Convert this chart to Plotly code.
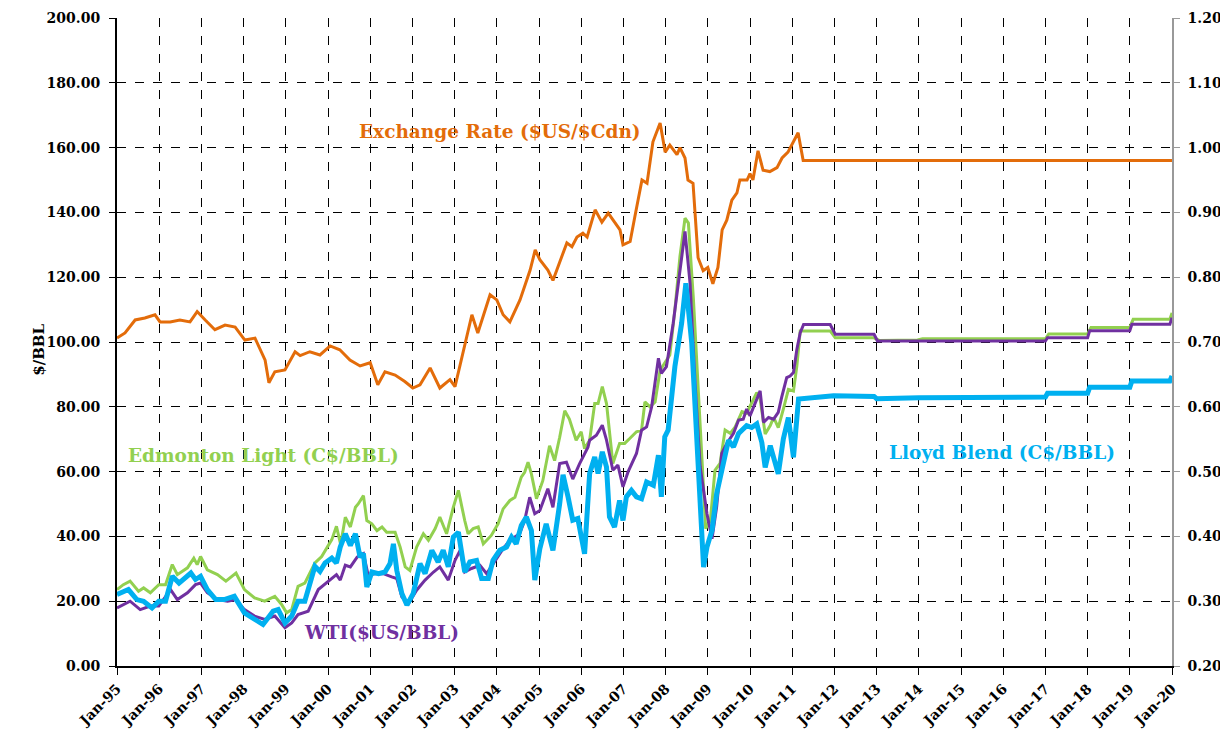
import plotly.graph_objects as go

# ---------------- data (decimal years) ----------------
years_ticks = list(range(1995, 2021))
tick_labels = ["Jan-%02d" % (y % 100) for y in years_ticks]

edm_x = [1995.0, 1995.15, 1995.31, 1995.51, 1995.63, 1995.79, 1995.99, 1996.15, 1996.31, 1996.43,
         1996.67, 1996.82, 1996.90, 1996.98, 1997.14, 1997.38, 1997.58, 1997.82, 1998.02, 1998.26,
         1998.50, 1998.74, 1998.90, 1999.02, 1999.14, 1999.29, 1999.45, 1999.69, 1999.85, 2000.09,
         2000.20, 2000.30, 2000.41, 2000.53, 2000.65, 2000.72, 2000.84, 2000.92, 2001.04, 2001.16,
         2001.28, 2001.39, 2001.59, 2001.71, 2001.83, 2001.94, 2002.10, 2002.26, 2002.38, 2002.54,
         2002.65, 2002.81, 2002.97, 2003.09, 2003.24, 2003.32, 2003.44, 2003.56, 2003.68, 2003.87,
         2004.03, 2004.15, 2004.31, 2004.43, 2004.58, 2004.66, 2004.74, 2004.82, 2004.94, 2005.09,
         2005.25, 2005.37, 2005.49, 2005.61, 2005.72, 2005.88, 2006.00, 2006.08, 2006.20, 2006.32,
         2006.40, 2006.50, 2006.60, 2006.75, 2006.91, 2007.03, 2007.15, 2007.31, 2007.43, 2007.51,
         2007.63, 2007.75, 2007.87, 2007.98, 2008.10, 2008.22, 2008.34, 2008.46, 2008.54, 2008.66,
         2008.78, 2008.90, 2008.95, 2009.06, 2009.17, 2009.29, 2009.41, 2009.53, 2009.65, 2009.81,
         2009.92, 2010.16, 2010.24, 2010.36, 2010.48, 2010.56, 2010.67, 2010.79, 2010.91, 2011.03,
         2011.11, 2011.19, 2011.90, 2012.02, 2012.94, 2013.06, 2013.97, 2014.09, 2017.00, 2017.08,
         2018.00, 2018.08, 2019.00, 2019.08, 2019.95, 2020.00]
edm_v = [23.6, 25.1, 26.2, 23.1, 24.1, 22.6, 25.1, 25.1, 31.3, 28.2,
         30.3, 33.3, 31.3, 33.8, 29.7, 28.2, 26.2, 28.7, 23.6, 21.0,
         20.0, 21.5, 19.0, 16.4, 17.4, 24.6, 25.6, 31.8, 33.8, 39.0,
         43.1, 37.5, 45.9, 42.9, 49.0, 50.1, 52.6, 44.9, 43.9, 41.8,
         42.9, 41.3, 41.3, 36.7, 30.6, 29.5, 36.7, 40.8, 38.8, 42.4,
         46.0, 40.8, 49.0, 54.2, 44.9, 40.8, 42.4, 42.9, 37.7, 40.3,
         43.9, 48.5, 51.1, 52.1, 58.3, 59.8, 62.9, 59.3, 51.6, 57.2,
         68.0, 63.4, 70.6, 78.8, 76.2, 69.7, 72.3, 67.1, 69.7, 81.0,
         81.0, 86.2, 81.0, 62.5, 68.7, 68.7, 70.2, 72.3, 72.8, 81.5,
         80.0, 81.5, 91.3, 93.4, 96.0, 109.9, 126.4, 138.2, 136.7, 113.0,
         82.1, 53.2, 42.4, 44.9, 60.4, 62.5, 72.8, 71.8, 73.8, 78.5,
         78.0, 84.4, 82.4, 71.6, 74.2, 76.7, 73.6, 79.3, 85.4, 84.9,
         92.6, 103.4, 103.4, 101.3, 101.3, 100.5, 100.6, 101.0, 101.0, 102.5,
         102.5, 104.5, 104.5, 107.0, 107.0, 109.0]

wti_x = [1995.0, 1995.31, 1995.55, 1995.79, 1995.99, 1996.27, 1996.43, 1996.67, 1996.86, 1996.98,
         1997.14, 1997.38, 1997.62, 1997.82, 1998.02, 1998.26, 1998.50, 1998.74, 1998.98, 1999.14,
         1999.29, 1999.53, 1999.77, 2000.01, 2000.20, 2000.29, 2000.41, 2000.53, 2000.69, 2000.84,
         2000.96, 2001.08, 2001.31, 2001.51, 2001.63, 2001.75, 2001.91, 2002.10, 2002.30, 2002.50,
         2002.65, 2002.85, 2003.01, 2003.13, 2003.24, 2003.40, 2003.60, 2003.76, 2003.95, 2004.15,
         2004.31, 2004.54, 2004.66, 2004.78, 2004.90, 2005.02, 2005.21, 2005.33, 2005.49, 2005.65,
         2005.80, 2005.96, 2006.16, 2006.20, 2006.36, 2006.50, 2006.60, 2006.75, 2006.87, 2006.99,
         2007.11, 2007.31, 2007.43, 2007.55, 2007.67, 2007.83, 2007.90, 2008.02, 2008.18, 2008.34,
         2008.46, 2008.58, 2008.70, 2008.82, 2008.98, 2009.10, 2009.21, 2009.33, 2009.45, 2009.61,
         2009.73, 2009.84, 2009.92, 2010.00, 2010.12, 2010.24, 2010.32, 2010.44, 2010.56, 2010.67,
         2010.75, 2010.87, 2010.95, 2011.03, 2011.11, 2011.19, 2011.27, 2011.90, 2012.02, 2012.94,
         2013.02, 2017.00, 2017.05, 2018.00, 2018.05, 2019.00, 2019.05, 2019.95, 2020.00]
wti_v = [17.9, 20.0, 17.4, 18.5, 18.5, 23.6, 20.5, 22.6, 25.1, 25.6,
         22.6, 20.5, 20.0, 20.5, 17.4, 15.4, 14.4, 15.4, 11.8, 13.3,
         15.9, 16.9, 23.6, 26.2, 28.2, 26.5, 31.1, 30.6, 33.6, 34.7,
         27.5, 28.5, 28.5, 27.5, 27.0, 21.3, 19.3, 23.4, 26.5, 29.0,
         30.6, 26.5, 32.6, 35.7, 29.0, 30.1, 31.1, 28.5, 32.1, 36.2,
         38.8, 40.8, 44.9, 52.1, 47.0, 48.0, 54.7, 49.0, 62.5, 62.9,
         57.7, 62.4, 67.5, 69.7, 71.2, 74.3, 69.7, 60.4, 62.0, 55.3,
         59.9, 65.6, 72.8, 73.8, 80.0, 95.0, 90.3, 92.4, 105.8, 121.2,
         134.1, 118.1, 87.2, 61.4, 47.0, 39.3, 49.1, 65.6, 68.7, 71.8,
         75.9, 76.2, 79.3, 77.2, 81.3, 84.9, 75.2, 76.7, 76.2, 78.3,
         82.9, 89.0, 89.5, 90.6, 97.7, 102.9, 105.4, 105.4, 102.4, 102.4,
         100.3, 100.3, 101.3, 101.3, 103.5, 103.5, 105.5, 105.5, 107.5]

lloyd_x = [1995.0, 1995.27, 1995.47, 1995.63, 1995.83, 1995.99, 1996.15, 1996.31, 1996.47, 1996.75,
           1996.86, 1996.98, 1997.14, 1997.34, 1997.54, 1997.78, 1998.02, 1998.26, 1998.46, 1998.70,
           1998.82, 1998.98, 1999.14, 1999.29, 1999.45, 1999.69, 1999.81, 1999.93, 2000.09, 2000.20,
           2000.29, 2000.41, 2000.53, 2000.65, 2000.76, 2000.84, 2000.92, 2001.04, 2001.20, 2001.35,
           2001.47, 2001.55, 2001.63, 2001.75, 2001.87, 2002.02, 2002.18, 2002.30, 2002.46, 2002.61,
           2002.73, 2002.85, 2002.97, 2003.09, 2003.24, 2003.36, 2003.52, 2003.64, 2003.80, 2003.91,
           2004.07, 2004.23, 2004.35, 2004.46, 2004.58, 2004.70, 2004.82, 2004.90, 2005.02, 2005.17,
           2005.33, 2005.49, 2005.57, 2005.69, 2005.80, 2005.92, 2006.00, 2006.08, 2006.20, 2006.32,
           2006.40, 2006.50, 2006.60, 2006.67, 2006.79, 2006.91, 2006.99, 2007.07, 2007.19, 2007.31,
           2007.43, 2007.55, 2007.71, 2007.83, 2007.90, 2007.98, 2008.06, 2008.22, 2008.38, 2008.48,
           2008.62, 2008.74, 2008.90, 2008.98, 2009.10, 2009.21, 2009.37, 2009.49, 2009.61, 2009.73,
           2009.92, 2010.04, 2010.16, 2010.28, 2010.36, 2010.48, 2010.67, 2010.79, 2010.91, 2011.03,
           2011.15, 2011.98, 2012.94, 2013.00, 2014.00, 2017.00, 2017.05, 2018.00, 2018.05, 2019.00,
           2019.05, 2019.95, 2020.00]
lloyd_v = [22.1, 23.6, 20.5, 20.0, 17.9, 20.0, 20.0, 27.7, 25.6, 28.7,
           26.7, 27.7, 23.6, 20.5, 20.5, 21.5, 16.4, 14.4, 12.8, 16.9,
           17.4, 13.3, 15.4, 20.0, 20.0, 30.8, 29.2, 31.8, 33.3, 31.8,
           36.7, 40.8, 37.2, 40.8, 33.6, 34.7, 24.4, 29.0, 28.5, 29.0,
           31.6, 37.7, 29.5, 22.4, 18.8, 22.4, 31.6, 28.5, 35.7, 32.1,
           35.7, 30.6, 39.8, 41.3, 29.0, 32.1, 32.6, 27.0, 27.0, 32.6,
           35.7, 36.7, 39.8, 37.7, 43.4, 46.0, 41.8, 26.5, 36.2, 43.9,
           35.7, 50.1, 59.0, 52.1, 45.0, 45.5, 39.8, 34.6, 59.4, 64.5,
           59.4, 66.1, 61.4, 46.0, 42.9, 51.1, 44.9, 52.2, 54.2, 52.2,
           51.6, 56.8, 55.8, 65.1, 52.2, 70.7, 72.8, 92.4, 105.8, 118.1,
           99.6, 68.7, 30.5, 36.7, 41.9, 53.2, 63.5, 69.7, 67.6, 71.8,
           74.2, 73.6, 74.7, 69.0, 61.3, 68.0, 59.3, 70.1, 76.7, 64.4,
           82.4, 83.4, 83.2, 82.5, 82.8, 83.0, 84.2, 84.2, 86.0, 86.0,
           88.0, 88.0, 89.5]

fx_x = [1995.0, 1995.19, 1995.43, 1995.66, 1995.90, 1996.02, 1996.26, 1996.49, 1996.73, 1996.90,
        1997.09, 1997.32, 1997.56, 1997.80, 1998.03, 1998.27, 1998.51, 1998.60, 1998.74, 1998.98,
        1999.22, 1999.34, 1999.57, 1999.81, 2000.05, 2000.28, 2000.52, 2000.76, 2001.00, 2001.18,
        2001.35, 2001.59, 2001.82, 2002.01, 2002.18, 2002.42, 2002.65, 2002.89, 2003.01, 2003.25,
        2003.41, 2003.55, 2003.84, 2004.00, 2004.15, 2004.31, 2004.55, 2004.79, 2004.91, 2005.02,
        2005.21, 2005.33, 2005.66, 2005.78, 2005.90, 2006.04, 2006.14, 2006.33, 2006.49, 2006.64,
        2006.80, 2006.92, 2006.99, 2007.16, 2007.27, 2007.44, 2007.56, 2007.70, 2007.87, 2007.99,
        2008.10, 2008.27, 2008.34, 2008.46, 2008.53, 2008.65, 2008.77, 2008.89, 2009.00, 2009.12,
        2009.24, 2009.34, 2009.45, 2009.57, 2009.69, 2009.76, 2009.93, 2010.00, 2010.07, 2010.19,
        2010.31, 2010.47, 2010.64, 2010.76, 2010.90, 2011.14, 2011.26, 2020.00]
fx_v = [0.706, 0.714, 0.734, 0.737, 0.742, 0.731, 0.731, 0.734, 0.731, 0.747,
        0.734, 0.719, 0.726, 0.723, 0.703, 0.706, 0.672, 0.637, 0.654, 0.657,
        0.685, 0.679, 0.685, 0.680, 0.694, 0.688, 0.672, 0.663, 0.668, 0.634,
        0.654, 0.649, 0.639, 0.629, 0.634, 0.660, 0.629, 0.642, 0.631, 0.696,
        0.742, 0.714, 0.773, 0.765, 0.742, 0.731, 0.765, 0.811, 0.842, 0.827,
        0.811, 0.795, 0.853, 0.847, 0.862, 0.868, 0.862, 0.904, 0.885, 0.899,
        0.884, 0.873, 0.850, 0.855, 0.893, 0.950, 0.945, 1.009, 1.038, 0.993,
        1.004, 0.989, 1.000, 0.984, 0.950, 0.945, 0.830, 0.810, 0.815, 0.790,
        0.815, 0.873, 0.888, 0.919, 0.930, 0.950, 0.950, 0.960, 0.950, 0.995,
        0.965, 0.963, 0.969, 0.984, 0.993, 1.023, 0.980, 0.980]

# ---------------- styling ----------------
FONT = "DejaVu Serif"
C_EDM = "#92D050"
C_WTI = "#7030A0"
C_LLOYD = "#00B0F0"
C_FX = "#E36C0A"

fig = go.Figure()
fig.add_trace(go.Scatter(x=edm_x, y=edm_v, mode="lines", name="Edmonton Light (C$/BBL)",
                         line=dict(color=C_EDM, width=3)))
fig.add_trace(go.Scatter(x=wti_x, y=wti_v, mode="lines", name="WTI($US/BBL)",
                         line=dict(color=C_WTI, width=3)))
fig.add_trace(go.Scatter(x=lloyd_x, y=lloyd_v, mode="lines", name="Lloyd Blend (C$/BBL)",
                         line=dict(color=C_LLOYD, width=5)))
fig.add_trace(go.Scatter(x=fx_x, y=fx_v, mode="lines", name="Exchange Rate ($US/$Cdn)",
                         line=dict(color=C_FX, width=3), yaxis="y2"))

labels = [
    ("Exchange Rate ($US/$Cdn)", 2004.08, 165.1, C_FX),
    ("Edmonton Light (C$/BBL)", 1998.46, 65.1, C_EDM),
    ("WTI($US/BBL)", 2001.26, 10.2, C_WTI),
    ("Lloyd Blend (C$/BBL)", 2015.97, 66.0, C_LLOYD),
]
for txt, x, y, c in labels:
    fig.add_annotation(x=x, y=y, xref="x", yref="y", text="<b>%s</b>" % txt, showarrow=False,
                       font=dict(family=FONT, size=18.5, color=c))

# y-axis title placed as a rotated annotation
fig.add_annotation(x=-0.0844, y=0.488, xref="paper", yref="paper", text="<b>$/BBL</b>",
                   textangle=-90, showarrow=False, font=dict(family=FONT, size=15, color="black"))

fig.update_layout(
    width=1220, height=724,
    margin=dict(l=109, r=56, t=10, b=66, autoexpand=False),
    paper_bgcolor="white", plot_bgcolor="white",
    showlegend=False,
    font=dict(family=FONT, size=14, color="black"),
    xaxis=dict(range=[1995, 2020], tickvals=years_ticks, ticktext=tick_labels, tickangle=-45,
               showgrid=True, gridcolor="black", griddash="dash", gridwidth=1,
               showline=True, linecolor="black", linewidth=2,
               ticks="outside", ticklen=7, tickcolor="black", tickwidth=1,
               tickfont=dict(family=FONT, size=14, color="black", weight="bold"),
               zeroline=False, automargin=False),
    yaxis=dict(range=[0, 200], dtick=20, tickformat=".2f",
               showgrid=True, gridcolor="black", griddash="dash", gridwidth=1,
               showline=True, linecolor="black", linewidth=2,
               ticks="outside", ticklen=6, tickcolor="black", ticklabelstandoff=6,
               tickfont=dict(family=FONT, size=14, color="black", weight="bold"),
               zeroline=False, automargin=False),
    yaxis2=dict(range=[0.2, 1.2], dtick=0.1, tickformat=".2f", overlaying="y", side="right",
                showgrid=False, showline=True, linecolor="#999999", linewidth=1.5,
                ticks="outside", ticklen=6, tickcolor="#999999", ticklabelstandoff=5,
                tickfont=dict(family=FONT, size=14, color="black", weight="bold"),
                zeroline=False, automargin=False),
)

fig.write_html("out.html")
